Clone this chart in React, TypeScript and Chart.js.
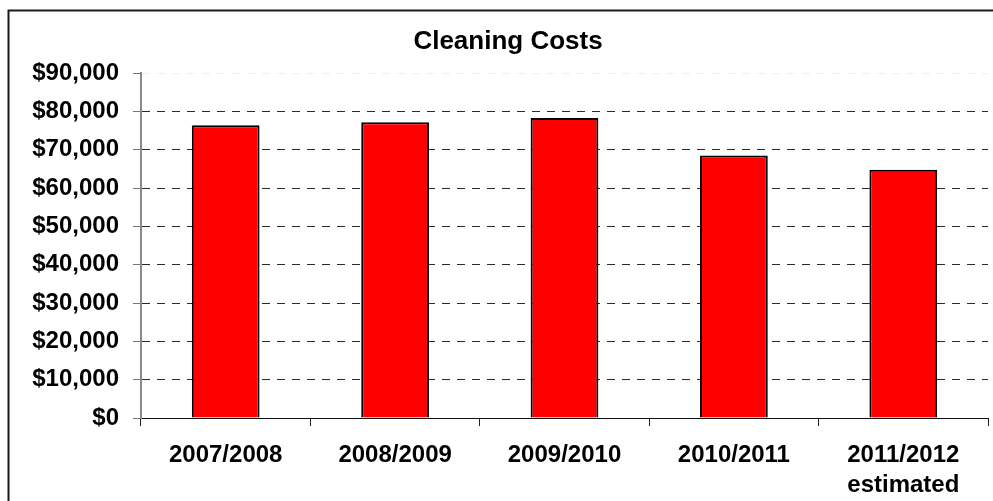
import React, { useEffect, useRef } from "react";
import { Chart, registerables } from "chart.js";

Chart.register(...registerables);

const categories: (string | string[])[] = [
  "2007/2008",
  "2008/2009",
  "2009/2010",
  "2010/2011",
  ["2011/2012", "estimated"],
];
const costs: number[] = [76400, 77200, 78300, 68500, 64800];
const yMin = 0;
const yMax = 90000;
const yStep = 10000;
const chartTitle = "Cleaning Costs";

const FONT = "'Liberation Sans', Arial, sans-serif";

const framePlugin = {
  id: "frame",
  beforeDraw(chart: any) {
    const ctx = chart.ctx;
    ctx.save();
    ctx.fillStyle = "#ffffff";
    ctx.fillRect(0, 0, chart.width, chart.height);
    ctx.strokeStyle = "#1a1a1a";
    ctx.lineWidth = 2;
    ctx.strokeRect(8.5, 10.5, chart.width + 20, chart.height + 20);
    ctx.restore();
  },
};

export default function App() {
  const ref = useRef<HTMLCanvasElement | null>(null);

  useEffect(() => {
    if (!ref.current) return;
    const chart = new Chart(ref.current, {
      type: "bar",
      data: {
        labels: categories,
        datasets: [
          {
            data: costs,
            backgroundColor: "#ff0000",
            borderColor: "#000000",
            borderWidth: 2,
            barPercentage: 0.4,
            categoryPercentage: 1,
          },
        ],
      },
      options: {
        responsive: false,
        animation: false,
        layout: { padding: { left: 28, right: 5, top: 0, bottom: 0 } },
        plugins: {
          legend: { display: false },
          tooltip: { enabled: false },
          title: {
            display: true,
            text: chartTitle,
            color: "#000",
            font: { family: FONT, size: 26, weight: "bold" },
            padding: { top: 26, bottom: 16 },
          },
        },
        scales: {
          x: {
            afterFit: (s: any) => {
              s.height = 83;
            },
            grid: {
              display: true,
              drawOnChartArea: false,
              drawTicks: true,
              tickLength: 8,
              tickColor: "#222",
              offset: true,
            },
            border: { display: true, color: "#111", width: 1 },
            ticks: {
              color: "#000",
              padding: 14,
              maxRotation: 0,
              autoSkip: false,
              font: { family: FONT, size: 24, weight: "bold", lineHeight: "30px" },
            },
          },
          y: {
            min: yMin,
            max: yMax,
            afterFit: (s: any) => {
              s.width = 113;
            },
            grid: {
              display: true,
              drawOnChartArea: true,
              drawTicks: true,
              tickLength: 8,
              color: (c: any) => (c.tick && c.tick.value === yMax ? "#eeeeee" : "#2a2a2a"),
              tickColor: "#777",
              tickBorderDash: [],
            },
            border: { display: true, color: "#888", width: 2, dash: [8, 7] },
            ticks: {
              stepSize: yStep,
              color: "#000",
              padding: 14,
              font: { family: FONT, size: 24, weight: "bold" },
              callback: (v: any) => "$" + Number(v).toLocaleString("en-US"),
            },
          },
        },
      },
      plugins: [framePlugin],
    });
    return () => chart.destroy();
  }, []);

  return (
    <div style={{ position: "absolute", left: 0, top: 0, width: 993, height: 501 }}>
      <canvas ref={ref} width={993} height={501} style={{ display: "block" }} />
    </div>
  );
}
